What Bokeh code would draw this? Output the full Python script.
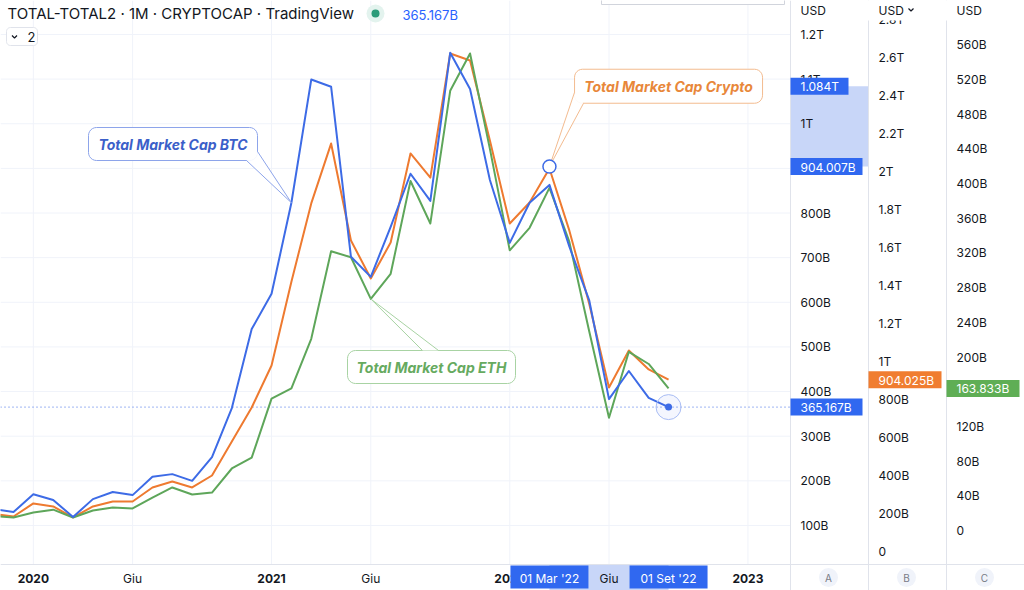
import math
from bokeh.plotting import figure
from bokeh.models import Range1d
from bokeh.core.properties import value
from bokeh.embed import file_html
from bokeh.resources import INLINE

# ---------------- data (billions of USD, monthly closes) ----------------
months = ["2019-11", "2019-12",
          "2020-01", "2020-02", "2020-03", "2020-04", "2020-05", "2020-06",
          "2020-07", "2020-08", "2020-09", "2020-10", "2020-11", "2020-12",
          "2021-01", "2021-02", "2021-03", "2021-04", "2021-05", "2021-06",
          "2021-07", "2021-08", "2021-09", "2021-10", "2021-11", "2021-12",
          "2022-01", "2022-02", "2022-03", "2022-04", "2022-05", "2022-06",
          "2022-07", "2022-08", "2022-09"]

btc_cap = [137, 130,
           170, 157, 119, 159, 175, 168, 209, 215, 200, 253, 363, 540,
           619, 823, 1099, 1083, 702, 657, 769, 888, 827, 1159, 1078, 874,
           733, 823, 863, 725, 605, 383, 446, 386, 365.167]

total_cap = [197, 184,
             253, 237, 179, 237, 263, 263, 337, 368, 337, 400, 579, 758,
             979, 1420, 1832, 2147, 1637, 1437, 1626, 2095, 1968, 2621, 2584, 2163,
             1726, 1837, 2016, 1690, 1305, 863, 1058, 958, 904.025]

eth_cap = [16.5, 15,
           20.7, 24, 15, 23, 26.5, 25.4, 38, 49.6, 41.5, 43.8, 71.5, 84,
           152, 164, 221, 322, 315, 267, 296, 403, 354, 507, 550, 440,
           323, 349, 395, 333, 230, 130, 206, 192, 163.833]

a_ticks = [100, 200, 300, 400, 500, 600, 700, 800, 900, 1000, 1100, 1200]
a_labels = ["100B", "200B", "300B", "400B", "500B", "600B", "700B", "800B",
            "900B", "1T", "1.1T", "1.2T"]
b_ticks = [0, 200, 400, 600, 800, 1000, 1200, 1400, 1600, 1800, 2000, 2200,
           2400, 2600, 2800]
b_labels = ["0", "200B", "400B", "600B", "800B", "1T", "1.2T", "1.4T", "1.6T",
            "1.8T", "2T", "2.2T", "2.4T", "2.6T", "2.8T"]
c_ticks = [0, 40, 80, 120, 160, 200, 240, 280, 320, 360, 400, 440, 480, 520, 560]
c_labels = ["0", "40B", "80B", "120B", "160B", "200B", "240B", "280B", "320B",
            "360B", "400B", "440B", "480B", "520B", "560B"]

time_ticks = ["2020-01", "2020-06", "2021-01", "2021-06", "2022-01", "2022-06", "2023-01"]
time_labels = ["2020", "Giu", "2021", "Giu", "2022", "Giu", "2023"]
time_bold = [True, False, True, False, True, False, True]

# callout drawing (selected): anchor and label point
crypto_anchor = ("2022-03", 904.007)
crypto_label_pt = ("2022-09", 1084.0)
sel_time_labels = ["01 Mar '22", "01 Set '22"]
btc_callout_month = "2021-02"
eth_callout_month = "2021-06"

# ---------------- geometry ----------------
W, H = 1024, 590
PANE_R = 790
TAX_TOP = 564
COLS = [790, 868, 946]
PPM = 19.85
FIRST_PIX = -6.85

BLUE = "#3d6be6"
ORANGE = "#ee7a30"
GREEN = "#5ea65a"
TXT = "#131722"
GRID = "#f0f3fa"
SEP = "#e0e3eb"
FONT = "Inter"


def midx(s):
    y, m = map(int, s.split("-"))
    return (y - 2019) * 12 + (m - 11)


x_start = -FIRST_PIX / PPM
x_end = x_start + W / PPM
SCALES = {"A": (569.6, 0.44636), "B": (551.0, 0.19), "C": (530.0, 0.8673)}


def yr(name):
    z, k = SCALES[name]
    return Range1d(start=(z - H) / k, end=z / k)


def px_x(i):
    return (i - x_start) * PPM


def px_y(v, name):
    z, k = SCALES[name]
    return z - v * k


def fmt_val(v):
    return f"{v / 1000:.3f}T" if v >= 1000 else f"{v:.3f}B"


idx = [midx(m) for m in months]

p = figure(width=W, height=H, x_range=Range1d(x_start, x_end), y_range=yr("A"),
           x_axis_type=None, y_axis_type=None, toolbar_location=None,
           output_backend="svg", min_border=0, title=None)
p.outline_line_color = None
p.background_fill_color = "white"
p.border_fill_color = "white"
p.extra_x_ranges = {"px": Range1d(0, W)}
p.extra_y_ranges = {"B": yr("B"), "C": yr("C"), "py": Range1d(H, 0)}

PX = dict(x_range_name="px", y_range_name="py")


def text(x, y, s, size=12, color=TXT, align="left", style="normal", font=FONT):
    p.text(x=[x], y=[y], text=[s], text_font=value(font), text_font_size=f"{size}px",
           text_color=color, text_align=align, text_baseline="middle",
           text_font_style=style, **PX)


def rrect(x0, y0, x1, y1, r, n=6):
    xs, ys = [], []
    for cx, cy, a0 in [(x0 + r, y0 + r, 180), (x1 - r, y0 + r, 270),
                       (x1 - r, y1 - r, 0), (x0 + r, y1 - r, 90)]:
        for j in range(n + 1):
            a = math.radians(a0 + 90 * j / n)
            xs.append(cx + r * math.cos(a))
            ys.append(cy + r * math.sin(a))
    return xs, ys


# ---------------- grid ----------------
p.segment(x0=0, x1=PANE_R, y0=a_ticks, y1=a_ticks, x_range_name="px",
          line_color=GRID, line_width=1)
tt_idx = [midx(t) for t in time_ticks]
p.segment(x0=tt_idx, x1=tt_idx, y0=0, y1=TAX_TOP, y_range_name="py",
          line_color=GRID, line_width=1)

# last-price dotted line
p.segment(x0=0, x1=PANE_R, y0=btc_cap[-1], y1=btc_cap[-1], x_range_name="px",
          line_color=BLUE, line_width=1, line_dash="1 3")

# ---------------- series ----------------
p.line(idx, total_cap, y_range_name="B", line_color=ORANGE, line_width=2, line_join="round")
p.line(idx, eth_cap, y_range_name="C", line_color=GREEN, line_width=2, line_join="round")
p.line(idx, btc_cap, line_color=BLUE, line_width=2, line_join="round")


# ---------------- callouts ----------------
def callout(cx, cy, w, h, label, col, border, tcol, base, anchor):
    x0, x1, y0, y1 = cx - w / 2, cx + w / 2, cy - h / 2, cy + h / 2
    xs, ys = rrect(x0, y0, x1, y1, 8)
    p.patch(xs, ys, fill_color="white", fill_alpha=0.92, line_color=border, line_width=1, **PX)
    p.patch([base[0][0], base[1][0], anchor[0]], [base[0][1], base[1][1], anchor[1]],
            fill_color="white", fill_alpha=0.92, line_color=None, **PX)
    p.multi_line(xs=[[base[0][0], anchor[0]], [base[1][0], anchor[0]]],
                 ys=[[base[0][1], anchor[1]], [base[1][1], anchor[1]]],
                 line_color=border, line_width=1, **PX)
    text(cx, cy + 0.5, label, size=14, color=tcol, align="center", style="bold italic")


bi = midx(btc_callout_month)
b_anchor = (px_x(bi), px_y(btc_cap[bi], "A"))
callout(172.5, 143.5, 169, 33, "Total Market Cap BTC", BLUE, "#8da4ea", "#3b5fc9",
        [(246, 160), (257, 151)], b_anchor)

ei = midx(eth_callout_month)
e_anchor = (px_x(ei), px_y(eth_cap[ei], "C"))
callout(431, 366.5, 168, 33, "Total Market Cap ETH", GREEN, "#a8d3a3", "#66aa5f",
        [(422, 350), (438, 350)], e_anchor)

ca_x = px_x(midx(crypto_anchor[0]))
ca_y = px_y(crypto_anchor[1], "A")
cl_x = px_x(midx(crypto_label_pt[0]))
cl_y = px_y(crypto_label_pt[1], "A")
callout(cl_x, cl_y, 188, 34, "Total Market Cap Crypto", ORANGE, "#f3bb8f", "#e8873a",
        [(cl_x - 94, cl_y + 6), (cl_x - 85, cl_y + 17)], (ca_x, ca_y))
p.scatter([midx(crypto_anchor[0])], [crypto_anchor[1]], size=13, marker="circle",
          fill_color="white", line_color=BLUE, line_width=1.5)

# last point highlight
p.scatter([idx[-1]], [btc_cap[-1]], size=25, marker="circle", fill_color=BLUE,
          fill_alpha=0.06, line_color="#a9bdf4", line_width=1)
p.scatter([idx[-1]], [btc_cap[-1]], size=7, marker="circle", fill_color=BLUE, line_color=None)

# ---------------- axis panels ----------------
p.quad(left=PANE_R, right=W, bottom=H, top=0, fill_color="white", line_color=None, **PX)
p.quad(left=0, right=W, bottom=H, top=TAX_TOP, fill_color="white", line_color=None, **PX)

# selected range bands
p.quad(left=COLS[0], right=COLS[1], bottom=crypto_anchor[1], top=crypto_label_pt[1],
       x_range_name="px", fill_color="#c8d6f8", line_color=None)
p.quad(left=midx(crypto_anchor[0]), right=midx(crypto_label_pt[0]), bottom=H, top=TAX_TOP,
       y_range_name="py", fill_color="#c8d6f8", line_color=None)

# separators
p.segment(x0=COLS, x1=COLS, y0=0, y1=H, line_color=SEP, line_width=1, **PX)
p.segment(x0=[0], x1=[W], y0=[TAX_TOP], y1=[TAX_TOP], line_color=SEP, line_width=1, **PX)

# tick labels
p.text(x=COLS[0] + 10, y=a_ticks, text=a_labels, x_range_name="px",
       text_font=value(FONT), text_font_size="12px", text_color=TXT, text_baseline="middle")
p.text(x=COLS[1] + 10, y=b_ticks, text=b_labels, x_range_name="px", y_range_name="B",
       text_font=value(FONT), text_font_size="12px", text_color=TXT, text_baseline="middle")
p.text(x=COLS[2] + 10, y=c_ticks, text=c_labels, x_range_name="px", y_range_name="C",
       text_font=value(FONT), text_font_size="12px", text_color=TXT, text_baseline="middle")

# header cover on price scales
p.quad(left=COLS[0] + 1, right=W, bottom=20, top=0, fill_color="white", line_color=None, **PX)
for c in COLS:
    text(c + 10, 10, "USD", size=12)
p.line([COLS[1] + 40, COLS[1] + 42.5, COLS[1] + 45], [8, 10.5, 8], line_color=TXT,
       line_width=1.2, **PX)

# price labels
def price_label(x0, x1, yv, rng, txt, fill):
    yc = px_y(yv, rng)
    p.quad(left=x0, right=x1, top=yc - 8.5, bottom=yc + 8.5, fill_color=fill,
           line_color=None, **PX)
    text(x0 + 10, yc + 0.5, txt, size=12, color="white")


price_label(COLS[0], COLS[0] + 72, btc_cap[-1], "A", fmt_val(btc_cap[-1]), "#3068f0")
price_label(COLS[0], COLS[0] + 58, crypto_label_pt[1], "A", fmt_val(crypto_label_pt[1]), "#3068f0")
price_label(COLS[0], COLS[0] + 72, crypto_anchor[1], "A", fmt_val(crypto_anchor[1]), "#3068f0")
price_label(COLS[1], COLS[1] + 73, total_cap[-1], "B", fmt_val(total_cap[-1]), "#f07d30")
price_label(COLS[2], COLS[2] + 73, eth_cap[-1], "C", fmt_val(eth_cap[-1]), "#5fae55")

# time axis labels
for t, lab, bold in zip(time_ticks, time_labels, time_bold):
    text(px_x(midx(t)), 577.5, lab, size=12, align="center",
         style="bold" if bold else "normal")
for m, lab in zip([crypto_anchor[0], crypto_label_pt[0]], sel_time_labels):
    cx = px_x(midx(m))
    p.quad(left=cx - 39, right=cx + 39, top=565, bottom=588, fill_color="#3068f0",
           line_color=None, **PX)
    text(cx, 577.5, lab, size=12, color="white", align="center")

# A B C buttons
for c, lab in zip(COLS, ["A", "B", "C"]):
    cx = c + 38
    p.scatter([cx], [577], size=19, marker="circle", fill_color="#f0f3fa", line_color=None, **PX)
    text(cx, 577.5, lab, size=10, color="#787b86", align="center")

# top popup edge
p.quad(left=601, right=784, top=-4, bottom=4, fill_color="white", line_color="#d1d4dc", **PX)

# ---------------- header ----------------
text(7, 13, "TOTAL-TOTAL2 · 1M · CRYPTOCAP · TradingView", size=15)
p.scatter([375], [13], size=18, marker="circle", fill_color="#e3f3ee", line_color=None, **PX)
p.scatter([375], [13], size=8, marker="circle", fill_color="#2b9b79", line_color=None, **PX)
text(402, 14, fmt_val(btc_cap[-1]), size=13, color="#2962ff")
bx, by = rrect(6, 27, 37, 45, 4)
p.patch(bx, by, fill_color="white", line_color=SEP, line_width=1, **PX)
p.line([11.5, 14, 16.5], [35, 37.5, 35], line_color=TXT, line_width=1.2, **PX)
text(27, 36.5, "2", size=13)

open("out.html", "w").write(file_html(p, INLINE))
